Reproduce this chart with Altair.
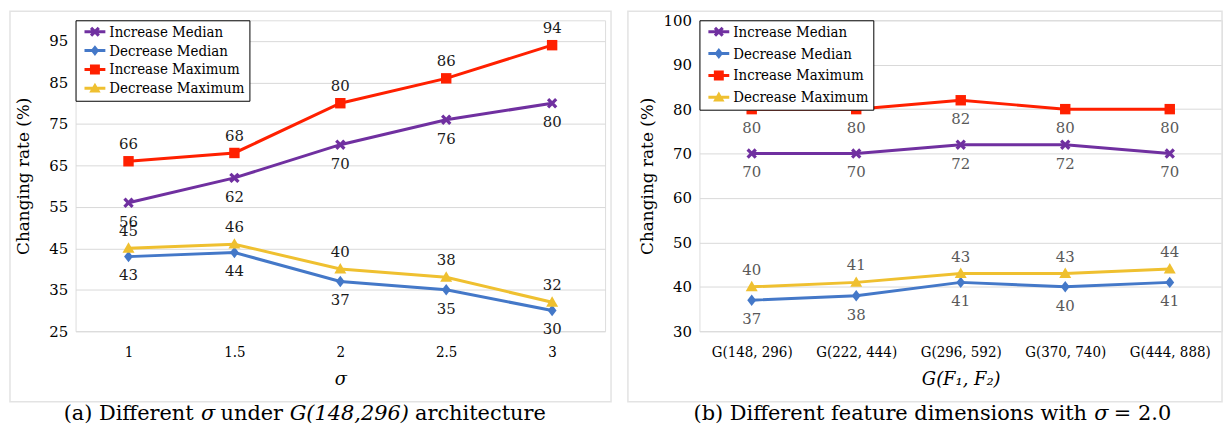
import math
import altair as alt
import pandas as pd

SERIF = "DejaVu Serif"
SERIF_C = "DejaVu Serif Condensed, DejaVu Serif"

SERIES = ["Increase Median", "Decrease Median", "Increase Maximum", "Decrease Maximum"]
COLORS = ["#7030A0", "#4478C8", "#FF2000", "#EFC030"]

# Panel (a): different sigma
A_CATS = ["1", "1.5", "2", "2.5", "3"]
A_INC_MED = [56, 62, 70, 76, 80]
A_DEC_MED = [43, 44, 37, 35, 30]
A_INC_MAX = [66, 68, 80, 86, 94]
A_DEC_MAX = [45, 46, 40, 38, 32]
A_YTICKS = [25, 35, 45, 55, 65, 75, 85, 95]
A_YDOM = [25, 100]
A_ABOVE = ["Increase Maximum", "Decrease Maximum"]

# Panel (b): different feature dimensions
B_CATS = ["G(148, 296)", "G(222, 444)", "G(296, 592)", "G(370, 740)", "G(444, 888)"]
B_INC_MED = [70, 70, 72, 72, 70]
B_DEC_MED = [37, 38, 41, 40, 41]
B_INC_MAX = [80, 80, 82, 80, 80]
B_DEC_MAX = [40, 41, 43, 43, 44]
B_YTICKS = [30, 40, 50, 60, 70, 80, 90, 100]
B_YDOM = [30, 100]
B_ABOVE = ["Decrease Maximum"]

CAP_A = [("(a) Different", "normal"), ("σ", "italic"), ("under", "normal"),
         ("G(148,296)", "italic"), ("architecture", "normal")]
CAP_B = [("(b) Different feature dimensions with", "normal"), ("σ", "italic"),
         ("=", "normal"), ("2.0", "normal")]

WA, WB, H = 533, 526, 313
CAP_SIZE = 21

# DejaVu Serif approximate advance widths (per 1000 em)
WID = {" ": 318, "(": 390, ")": 390, ",": 318, ".": 318, "=": 838, "σ": 620,
       "a": 596, "b": 640, "c": 560, "d": 640, "e": 592, "f": 370, "h": 644,
       "i": 320, "m": 948, "n": 644, "o": 602, "r": 478, "s": 513, "t": 402,
       "u": 644, "w": 856, "D": 802, "G": 775}


def text_w(s, size):
    return sum(WID.get(ch, 636) for ch in s) * size / 1000.0


def poly(pts):
    return "M" + "L".join(f"{x:.3f},{y:.3f}" for x, y in pts) + "Z"


def x_pts(h=0.28):
    pts = [(-h, -1), (h, -1), (h, -h), (1, -h), (1, h), (h, h), (h, 1), (-h, 1),
           (-h, h), (-1, h), (-1, -h), (-h, -h)]
    k = math.sqrt(2) / (1 + h)
    return [((x - y) / math.sqrt(2) * k, (x + y) / math.sqrt(2) * k) for x, y in pts]


MARKERS = [poly(x_pts()),
           poly([(0, -1.1), (0.85, 0), (0, 1.1), (-0.85, 0)]),
           poly([(-1, -1), (1, -1), (1, 1), (-1, 1)]),
           poly([(0, -1.15), (1.15, 0.85), (-1.15, 0.85)])]
BAR = poly([(-2.1, -0.3), (2.1, -0.3), (2.1, 0.3), (-2.1, 0.3)])
LEG_SHAPES = [BAR + m for m in MARKERS]


def panel(cats, vals, yticks, ydom, above, xtitle, label_color, row_pad, caption,
          cap_left, frame_left, frame_right, W):
    rows = []
    for s, v in zip(SERIES, vals):
        for c, y in zip(cats, v):
            rows.append({"cat": c, "series": s, "value": y})
    df = pd.DataFrame(rows)
    base = alt.Chart(df)

    x = alt.X("cat:N", sort=cats, scale=alt.Scale(type="point", padding=0.5),
              axis=alt.Axis(title=xtitle, labelAngle=0, labelFont=SERIF_C, labelFontSize=15,
                            labelColor="#000000", labelPadding=13, ticks=False, domain=False,
                            grid=False, titleFont=SERIF, titleFontSize=18,
                            titleFontStyle="italic", titleFontWeight="normal",
                            titleColor="#000000", titleY=49, titleBaseline="middle"))
    y = alt.Y("value:Q", scale=alt.Scale(domain=ydom, nice=False, zero=False),
              axis=alt.Axis(values=yticks, title="Changing rate (%)", grid=True,
                            gridColor="#d9d9d9", gridWidth=1, ticks=False, domain=False,
                            labelFont=SERIF, labelFontSize=15, labelColor="#000000",
                            labelPadding=8, titleFont=SERIF, titleFontSize=17,
                            titleFontWeight="normal", titleColor="#000000",
                            titleX=-52, titleY=H / 2, titleAngle=270,
                            titleBaseline="middle", titleAlign="center"))
    leg = alt.Legend(orient="top-left", offset=0, title=None, labelFont=SERIF_C,
                     labelFontSize=15, labelColor="#000000", strokeColor="#000000",
                     fillColor="#ffffff", padding=4, rowPadding=row_pad, symbolSize=100,
                     symbolOffset=8, labelOffset=7, symbolStrokeWidth=0,
                     symbolOpacity=1)
    col_plain = alt.Color("series:N", sort=SERIES,
                          scale=alt.Scale(domain=SERIES, range=COLORS), legend=None)
    shp_plain = alt.Shape("series:N", sort=SERIES,
                          scale=alt.Scale(domain=SERIES, range=MARKERS), legend=None)
    col_leg = alt.Color("series:N", sort=SERIES,
                        scale=alt.Scale(domain=SERIES, range=COLORS), legend=leg)
    shp_leg = alt.Shape("series:N", sort=SERIES,
                        scale=alt.Scale(domain=SERIES, range=LEG_SHAPES), legend=leg)

    lines = base.mark_line(strokeWidth=3).encode(x=x, y=y, color=col_plain)
    points = base.mark_point(filled=True, size=110, opacity=1).encode(
        x=x, y=y, color=col_plain, shape=shp_plain)
    legend_src = base.mark_point(filled=True, size=110, opacity=0).encode(
        x=x, y=y, color=col_leg, shape=shp_leg)
    lab_up = base.transform_filter(
        alt.FieldOneOfPredicate(field="series", oneOf=above)
    ).mark_text(dy=-17, font=SERIF, fontSize=15, color=label_color).encode(
        x=x, y=y, text="value:Q")
    lab_dn = base.transform_filter(
        ~alt.FieldOneOfPredicate(field="series", oneOf=above)
    ).mark_text(dy=19, font=SERIF, fontSize=15, color=label_color).encode(
        x=x, y=y, text="value:Q")

    one = pd.DataFrame({"k": [0]})
    frame = alt.Chart(one).mark_rect(fillOpacity=0, stroke="#e3e3e3", strokeWidth=1.5).encode(
        x=alt.value(frame_left), x2=alt.value(W + frame_right), y=alt.value(-9),
        y2=alt.value(384))

    layers = [frame, lines, points, legend_src, lab_up, lab_dn]
    gap = WID[" "] * CAP_SIZE / 1000.0
    cx = cap_left
    for t, style in caption:
        layers.append(alt.Chart(one).mark_text(
            font=SERIF, fontSize=CAP_SIZE, fontStyle=style, align="left",
            baseline="middle", color="#000000").encode(
            x=alt.value(cx), y=alt.value(H + 83), text=alt.value(t)))
        cx += text_w(t, CAP_SIZE) + gap

    return alt.layer(*layers).resolve_scale(
        color="independent", shape="independent"
    ).resolve_legend(color="independent", shape="independent").properties(
        width=W, height=H)


pa = panel(A_CATS, [A_INC_MED, A_DEC_MED, A_INC_MAX, A_DEC_MAX], A_YTICKS, A_YDOM,
           A_ABOVE, "σ", "#1a1a1a", 3, CAP_A, -12, -66, 6, WA)
pb = panel(B_CATS, [B_INC_MED, B_DEC_MED, B_INC_MAX, B_DEC_MAX], B_YTICKS, B_YDOM,
           B_ABOVE, "G(F₁, F₂)", "#595959", 6, CAP_B, -6, -72, 0, WB)

chart = alt.hconcat(pa, pb, spacing=13).resolve_scale(
    color="independent", shape="independent"
).resolve_legend(
    color="independent", shape="independent"
).properties(padding={"left": 0, "top": 0, "right": 0, "bottom": 0}).configure_view(
    stroke="#000000", strokeWidth=1).configure(background="#ffffff")

chart.save("out.html", embed_options={"renderer": "svg", "actions": False})
